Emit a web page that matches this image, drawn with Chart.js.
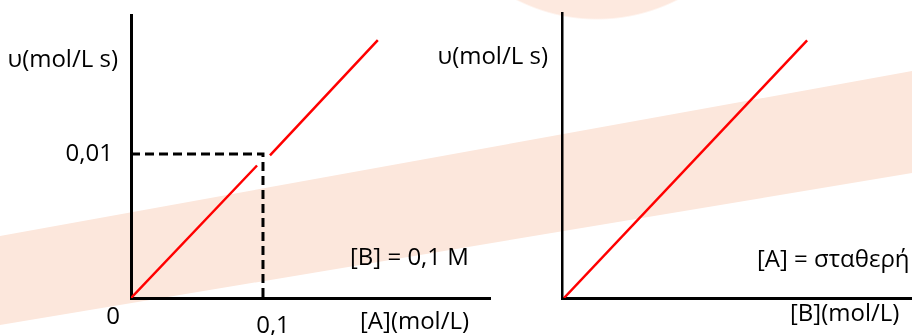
<!DOCTYPE html>
<html lang="el">
<head>
  <meta charset="UTF-8">
  <title>Ταχύτητα αντίδρασης</title>
  <script src="https://cdn.jsdelivr.net/npm/chart.js"></script>
  <style>
    body { margin: 0; background: #fff; }
    /* pale watermark behind the charts: round blob at the top + slanted band */
    .wrap {
      position: relative; width: 912px; height: 335px; overflow: hidden;
      background: radial-gradient(circle 178px at 597px -158px, #fde9df 99%, rgba(255,255,255,0) 100%);
    }
    .band {
      position: absolute; left: 0; top: 0; width: 912px; height: 335px;
      background: #fce7dc;
      clip-path: polygon(0 236px, 912px 71px, 912px 173px, 0 325px);
    }
    canvas { position: absolute; top: 0; }
    #chartA { left: 0; }
    #chartB { left: 420px; }
  </style>
</head>
<body>
  <div class="wrap">
    <div class="band"></div>
    <canvas id="chartA" width="540" height="335"></canvas>
    <canvas id="chartB" width="492" height="335"></canvas>
  </div>

  <script>
    // left graph: u against [A], with [B] = 0,1 M
    const rateA_x = [0, 0.0955, 0.1, 0.1053, 0.187];
    const rateA_y = [0, 0.0092, null, 0.0099, 0.0179];
    const guide_x = [0, 0.1, 0.1];
    const guide_y = [0.01, 0.01, 0];
    const xTicksA = [0.1];
    const xTickLabelsA = ['0,1'];
    const yTicksA = [0.01];
    const yTickLabelsA = ['0,01'];
    const xMaxA = 0.272, yMaxA = 0.01965;

    // right graph: u against [B], with [A] constant
    const rateB_x = [0.0015, 0.1856];
    const rateB_y = [0, 0.0179];
    const xMaxB = 0.265, yMaxB = 0.0198;

    const FONT = '"Open Sans", sans-serif';
    Chart.defaults.font.family = FONT;
    Chart.defaults.font.size = 24;
    Chart.defaults.color = '#000';

    const pts = (xs, ys) => xs.map((x, i) => ({ x: x, y: ys[i] }));

    // free text around the axes
    const notes = {
      id: 'notes',
      afterDraw(chart, args, opts) {
        const { ctx, chartArea } = chart;
        ctx.save();
        ctx.font = '24px ' + FONT;
        ctx.fillStyle = '#000';
        ctx.textBaseline = 'middle';
        opts.items.forEach(t => {
          ctx.textAlign = t.align || 'left';
          ctx.fillText(t.text, chartArea.left + t.dx, t.y);
        });
        ctx.restore();
      }
    };

    function baseOptions(xMax, yMax, yWidth, padTop, padRight, yBorder) {
      return {
        responsive: false,
        animation: false,
        devicePixelRatio: 1,
        layout: { padding: { top: padTop, right: padRight, left: 0, bottom: 0 } },
        plugins: { legend: { display: false }, tooltip: { enabled: false } },
        scales: {
          x: {
            type: 'linear', min: 0, max: xMax,
            grid: { display: false, drawTicks: false },
            border: { display: true, color: '#000', width: 3 },
            ticks: { display: false },
            afterFit: s => { s.height = 37; s.paddingLeft = 0; s.paddingRight = 0; }
          },
          y: {
            type: 'linear', min: 0, max: yMax,
            grid: { display: false, drawTicks: false },
            border: { display: true, color: '#000', width: yBorder },
            ticks: { display: false },
            afterFit: s => { s.width = yWidth; s.paddingTop = 0; s.paddingBottom = 0; }
          }
        }
      };
    }

    // left chart
    const optsA = baseOptions(xMaxA, yMaxA, 131, 15, 50, 3);
    optsA.scales.x.ticks = {
      display: true, padding: 14, labelOffset: 10,
      callback: v => xTickLabelsA[xTicksA.indexOf(v)]
    };
    optsA.scales.x.afterBuildTicks = s => { s.ticks = xTicksA.map(v => ({ value: v })); };
    optsA.scales.y.ticks = {
      display: true, padding: 18,
      callback: v => yTickLabelsA[yTicksA.indexOf(v)]
    };
    optsA.scales.y.afterBuildTicks = s => { s.ticks = yTicksA.map(v => ({ value: v })); };
    optsA.plugins.notes = {
      items: [
        { text: 'υ(mol/L s)', dx: -13, y: 60, align: 'right' },
        { text: '0', dx: -18, y: 317, align: 'center' },
        { text: '[B] = 0,1 M', dx: 219, y: 258 },
        { text: '[A](mol/L)', dx: 229, y: 322 }
      ]
    };

    new Chart(document.getElementById('chartA'), {
      type: 'scatter',
      data: {
        datasets: [
          {
            data: pts(rateA_x, rateA_y),
            showLine: true, spanGaps: false,
            borderColor: '#ff0000', borderWidth: 2.5, pointRadius: 0
          },
          {
            data: pts(guide_x, guide_y),
            showLine: true,
            borderColor: '#000', borderWidth: 3, borderDash: [9, 5], pointRadius: 0
          }
        ]
      },
      options: optsA,
      plugins: [notes]
    });

    // right chart
    const optsB = baseOptions(xMaxB, yMaxB, 142, 13, 0, 2.5);
    optsB.plugins.notes = {
      items: [
        { text: 'υ(mol/L s)', dx: -14, y: 57, align: 'right' },
        { text: '[A] = σταθερή', dx: 195, y: 260 },
        { text: '[B](mol/L)', dx: 228, y: 314 }
      ]
    };

    new Chart(document.getElementById('chartB'), {
      type: 'scatter',
      data: {
        datasets: [
          {
            data: pts(rateB_x, rateB_y),
            showLine: true,
            borderColor: '#ff0000', borderWidth: 2.5, pointRadius: 0
          }
        ]
      },
      options: optsB,
      plugins: [notes]
    });
  </script>
</body>
</html>
